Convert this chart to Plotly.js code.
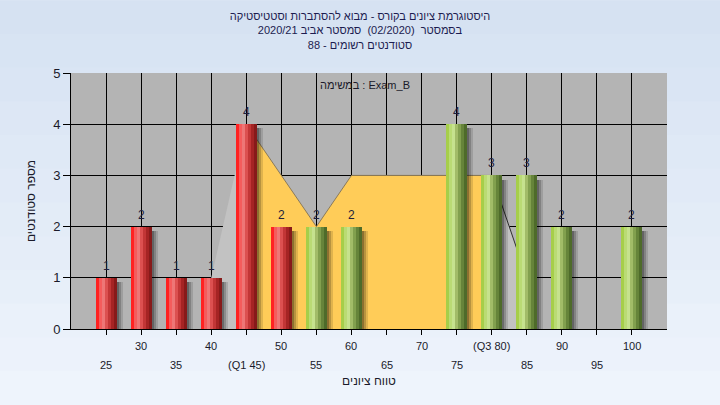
<!DOCTYPE html>
<html><head><meta charset="utf-8">
<script src="https://cdn.plot.ly/plotly-3.0.1.min.js"></script>
<style>html,body{margin:0;padding:0;background:#e4ecf7;}#chart{width:720px;height:405px;}</style>
</head><body><div id="chart"></div>
<script>
// ---- data ----
const categories = [25,30,35,40,45,50,55,60,65,70,75,80,85,90,95,100];
const counts     = [1,2,1,1,4,2,2,2,0,0,4,3,3,2,0,2];
const barGroups  = ['fail','fail','fail','fail','fail','fail','pass','pass','pass','pass','pass','pass','pass','pass','pass','pass'];
const tickLabels = ['25','30','35','40','(Q1 45)','50','55','60','65','70','75','(Q3 80)','85','90','95','100'];
const iqrAreaX   = [45,55,60,80];
const iqrAreaY   = [4,2,3,3];
const lowTailX   = [40,45];
const lowTailY   = [1,4];
const highTailX  = [80,85];
const highTailY  = [3,1];
const yTicks     = [0,1,2,3,4,5];
const titleLines = [
  'היסטוגרמת ציונים בקורס - מבוא להסתברות וסטטיסטיקה',
  'בסמסטר  (02/2020)  סמסטר אביב 2020/21',
  'סטודנטים רשומים - 88'
];
const taskLabel = 'במשימה : Exam_B';
const xTitle = 'טווח ציונים';
const yTitle = 'מספר סטודנטים';

// ---- styles ----
const FONT = 'Liberation Sans, Arial, sans-serif';
const redStrips   = ['#FF2222','#F45C5C','#EE7676','#DC5050','#C23636','#A52424','#871A1A'];
const greenStrips = ['#A6CE4A','#BADB74','#C6E28E','#A2BC68','#82A04E','#66843A','#4E6B2A'];
const barWidth = 3, nStrips = redStrips.length, stripW = barWidth / nStrips;
const shadowCols = ['rgba(0,0,0,0.45)','rgba(0,0,0,0.28)','rgba(0,0,0,0.12)'];
const shadowW = 0.2857;

const traces = [];
shadowCols.forEach((c,i) => {
  traces.push({type:'bar', x:categories, y:counts.map(v => v>0 ? v-0.08 : 0),
    width:shadowW, offset:barWidth/2 + i*shadowW, marker:{color:c, line:{width:0}},
    hoverinfo:'skip', showlegend:false});
});
for (let i=0;i<nStrips;i++){
  traces.push({type:'bar', x:categories, y:counts, width:stripW, offset:-barWidth/2 + i*stripW,
    marker:{color:barGroups.map(g => g==='fail' ? redStrips[i] : greenStrips[i]), line:{width:0}},
    hoverinfo:'skip', showlegend:false});
}

function areaPath(xs, ys){
  let p = 'M ' + xs[0] + ',0';
  xs.forEach((x,i) => { p += ' L ' + x + ',' + ys[i]; });
  p += ' L ' + xs[xs.length-1] + ',0 Z';
  return p;
}
function linePath(xs, ys){
  return xs.map((x,i) => (i===0?'M ':'L ') + x + ',' + ys[i]).join(' ');
}

const shapes = [];
// background gradient
const nb = 12, bandTop = 1 + 73/257, bandBot = -76/257;
for (let i=0;i<nb;i++){
  const t = i/(nb-1);
  const r = Math.round(214 + (238-214)*t), g = Math.round(226 + (244-226)*t), b = Math.round(242 + (252-242)*t);
  shapes.push({type:'rect', xref:'paper', yref:'paper', x0:-0.2, x1:1.2,
    y1: bandTop - (bandTop-bandBot)*i/nb, y0: bandTop - (bandTop-bandBot)*(i+1)/nb - 0.002,
    fillcolor:`rgb(${r},${g},${b})`, line:{width:0}, layer:'below'});
}
shapes.push({type:'rect', xref:'paper', yref:'paper', x0:0, x1:1, y0:0, y1:1,
  fillcolor:'#B4B4B4', line:{width:0}, layer:'below'});
shapes.push({type:'path', xref:'x', yref:'y', path:areaPath(lowTailX, lowTailY), fillcolor:'#C2C2C2', line:{width:0}, layer:'between'});
shapes.push({type:'path', xref:'x', yref:'y', path:areaPath(highTailX, highTailY), fillcolor:'#C2C2C2', line:{width:0}, layer:'between'});
shapes.push({type:'path', xref:'x', yref:'y', path:linePath(highTailX, highTailY), line:{width:1, color:'#303030'}, layer:'between'});
shapes.push({type:'path', xref:'x', yref:'y', path:areaPath(iqrAreaX, iqrAreaY), fillcolor:'#FFCC58', line:{width:0}, layer:'between'});
shapes.push({type:'path', xref:'x', yref:'y', path:linePath(iqrAreaX, iqrAreaY), line:{width:1, color:'#8a7a5a'}, layer:'between'});

const annotations = [];
categories.forEach((c,i) => {
  annotations.push({xref:'x', yref:'paper', x:c, y: (i%2===0) ? -36.5/257 : -17.5/257,
    text: tickLabels[i], showarrow:false, xanchor:'center', yanchor:'middle',
    font:{family:FONT, size:11, color:'#1a1a2a'}});
  if (counts[i] > 0) {
    annotations.push({xref:'x', yref:'y', x:c, y:counts[i], text:String(counts[i]), showarrow:false,
      xanchor:'center', yanchor:'bottom', yshift:3, font:{family:FONT, size:12, color:'#1e1e3c'}});
  }
});
annotations.push({xref:'paper', yref:'paper', x:0.493, y:1-12.5/257, text:taskLabel, showarrow:false,
  xanchor:'center', yanchor:'middle', font:{family:FONT, size:11, color:'#1a1a2a'}});

const layout = {
  width:720, height:405,
  margin:{l:71, r:53, t:73, b:76, pad:0},
  paper_bgcolor:'#e2eaf6', plot_bgcolor:'#B4B4B4',
  barmode:'overlay', bargap:0, showlegend:false,
  font:{family:FONT, color:'#1a1a2a'},
  title:{text:titleLines.join('<br>'), x:0.5, xanchor:'center', y:1-20/405, yanchor:'top',
    font:{family:FONT, size:11, color:'#1c1c50'}},
  xaxis:{range:[20,105], tickvals:categories, showticklabels:false, ticks:'outside', ticklen:5,
    tickcolor:'#000', showgrid:true, gridcolor:'#000', gridwidth:1, zeroline:false,
    showline:true, linecolor:'#000', linewidth:1, fixedrange:true,
    title:{text:xTitle, standoff:42, font:{family:FONT, size:12, color:'#1a1a2a'}}},
  yaxis:{range:[0,5], tickvals:yTicks, ticks:'outside', ticklen:7, tickcolor:'#000',
    showgrid:true, gridcolor:'#000', gridwidth:1, zeroline:false, showline:true, linecolor:'#000',
    tickfont:{family:FONT, size:13, color:'#1a1a2a'}, fixedrange:true,
    title:{text:yTitle, standoff:14, font:{family:FONT, size:12, color:'#1a1a2a'}}},
  yaxis2:{overlaying:'y', side:'right', range:[0,5], tickvals:yTicks, ticks:'outside', ticklen:8,
    tickcolor:'#000', showgrid:false, zeroline:false, showline:true, linecolor:'#000',
    tickfont:{family:FONT, size:13, color:'#1a1a2a'}, fixedrange:true},
  shapes:shapes, annotations:annotations
};
Plotly.newPlot('chart', traces, layout, {displayModeBar:false, staticPlot:true});
</script></body></html>
